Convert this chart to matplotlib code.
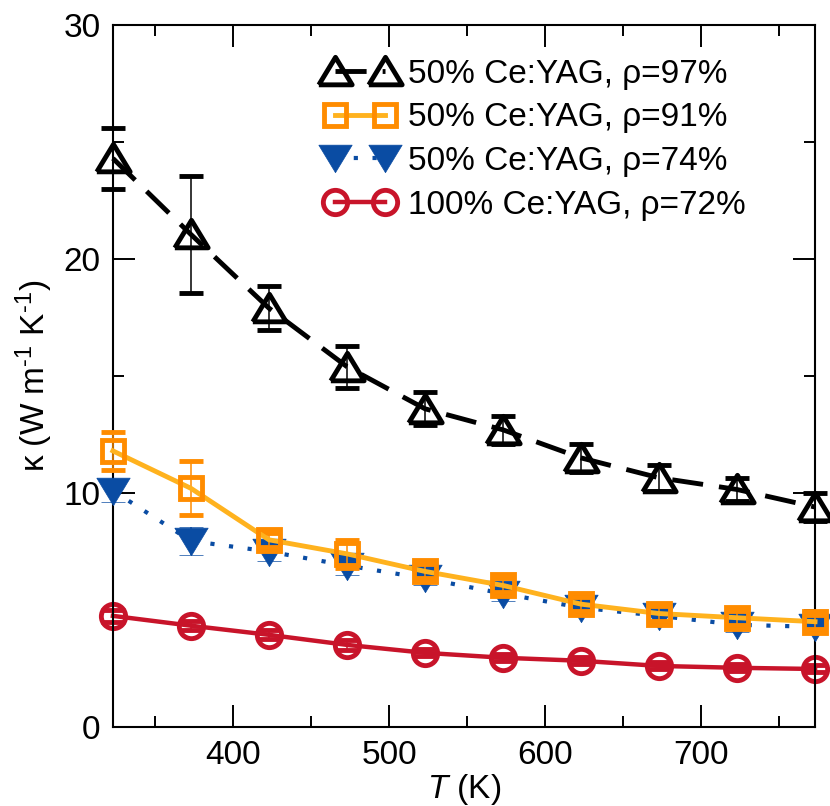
import matplotlib

matplotlib.use("Agg")
import matplotlib.pyplot as plt
from matplotlib.ticker import MultipleLocator

plt.rcParams["font.family"] = ["Liberation Sans", "DejaVu Sans"]
plt.rcParams["mathtext.fontset"] = "custom"
plt.rcParams["mathtext.rm"] = "Liberation Sans"
plt.rcParams["mathtext.it"] = "Liberation Sans:italic"

# temperatures (K)
temps = [323, 373, 423, 473, 523, 573, 623, 673, 723, 773]

# thermal conductivity (W m^-1 K^-1) and errors
k_97 = [24.3, 21.05, 17.9, 15.4, 13.6, 12.7, 11.5, 10.65, 10.15, 9.4]
e_97 = [1.3, 2.5, 0.95, 0.9, 0.7, 0.6, 0.6, 0.55, 0.5, 0.58]
k_91 = [11.8, 10.2, 8.0, 7.4, 6.65, 6.05, 5.25, 4.85, 4.67, 4.5]
e_91 = [0.8, 1.15, 0.3, 0.6, 0.3, 0.3, 0.3, 0.3, 0.3, 0.3]
k_74 = [10.1, 7.95, 7.5, 6.9, 6.35, 5.7, 5.1, 4.75, 4.37, 4.28]
e_74 = [0.5, 0.6, 0.4, 0.4, 0.3, 0.3, 0.3, 0.3, 0.3, 0.3]
k_72 = [4.75, 4.33, 3.94, 3.51, 3.17, 2.96, 2.83, 2.61, 2.53, 2.48]
e_72 = [0.25, 0.2, 0.2, 0.2, 0.15, 0.15, 0.15, 0.15, 0.15, 0.15]

labels = [
    "50% Ce:YAG, ρ=97%",
    "50% Ce:YAG, ρ=91%",
    "50% Ce:YAG, ρ=74%",
    "100% Ce:YAG, ρ=72%",
]

BLACK = "#000000"
ORANGE = "#ff8c00"
ORANGE_LINE = "#ffb21e"
BLUE = "#0a4ca3"
RED = "#c8142a"

# wide, squat triangles like the original symbols
tri_up = [(-1.0, -0.8), (1.0, -0.8), (0.0, 0.85), (-1.0, -0.8)]
tri_dn = [(-1.0, 0.8), (1.0, 0.8), (0.0, -0.85), (-1.0, 0.8)]

fig = plt.figure(figsize=(8.3, 8.06), dpi=100)
ax = fig.add_axes([0.136, 0.098, 0.846, 0.871])

common = dict(elinewidth=1.1, capsize=8.3, capthick=1.1, clip_on=False)

h72 = ax.errorbar(temps, k_72, yerr=e_72, color=RED, ecolor=RED, lw=3.2,
                  marker="o", ms=17.5, mfc="none", mec=RED, mew=3.5,
                  zorder=2, **common)
h74 = ax.errorbar(temps, k_74, yerr=e_74, color=BLUE, ecolor=BLUE, lw=3.0,
                  ls=(0, (1, 3.5)), marker=tri_dn, ms=24, mfc=BLUE, mec=BLUE,
                  mew=0.5, zorder=3, **common)
h91 = ax.errorbar(temps, k_91, yerr=e_91, color=ORANGE_LINE, ecolor=ORANGE,
                  lw=3.5, marker="s", ms=15.5, mfc="none", mec=ORANGE, mew=3.5,
                  zorder=4, **common)
h97 = ax.errorbar(temps, k_97, yerr=e_97, color=BLACK, ecolor=BLACK, lw=3.5,
                  ls=(0, (6.4, 3.3)), marker=tri_up, ms=24, mfc="none",
                  mec=BLACK, mew=3.5, zorder=5, **common)

ax.set_xlim(323, 773)
ax.set_ylim(0, 30)
ax.xaxis.set_major_locator(MultipleLocator(100))
ax.xaxis.set_minor_locator(MultipleLocator(50))
ax.yaxis.set_major_locator(MultipleLocator(10))
ax.yaxis.set_minor_locator(MultipleLocator(5))
ax.tick_params(which="both", direction="in", top=True, right=True, width=1.4)
ax.tick_params(which="major", length=16, labelsize=24, pad=9)
ax.tick_params(which="minor", length=8)
for s in ax.spines.values():
    s.set_linewidth(1.5)

ax.set_xlabel(r"$T$ (K)", fontsize=24, labelpad=1)
ax.set_ylabel(r"κ (W m$^{\text{-}1}$ K$^{\text{-}1}$)", fontsize=24, labelpad=6)

ax.legend(
    [h97[0], h91[0], h74[0], h72[0]],
    labels,
    loc="upper left",
    bbox_to_anchor=(0.302, 0.952),
    frameon=False,
    fontsize=24,
    numpoints=2,
    handlelength=2.1,
    handletextpad=0.4,
    labelspacing=0.38,
    borderpad=0,
    borderaxespad=0,
)

fig.savefig("out.png", dpi=100)
